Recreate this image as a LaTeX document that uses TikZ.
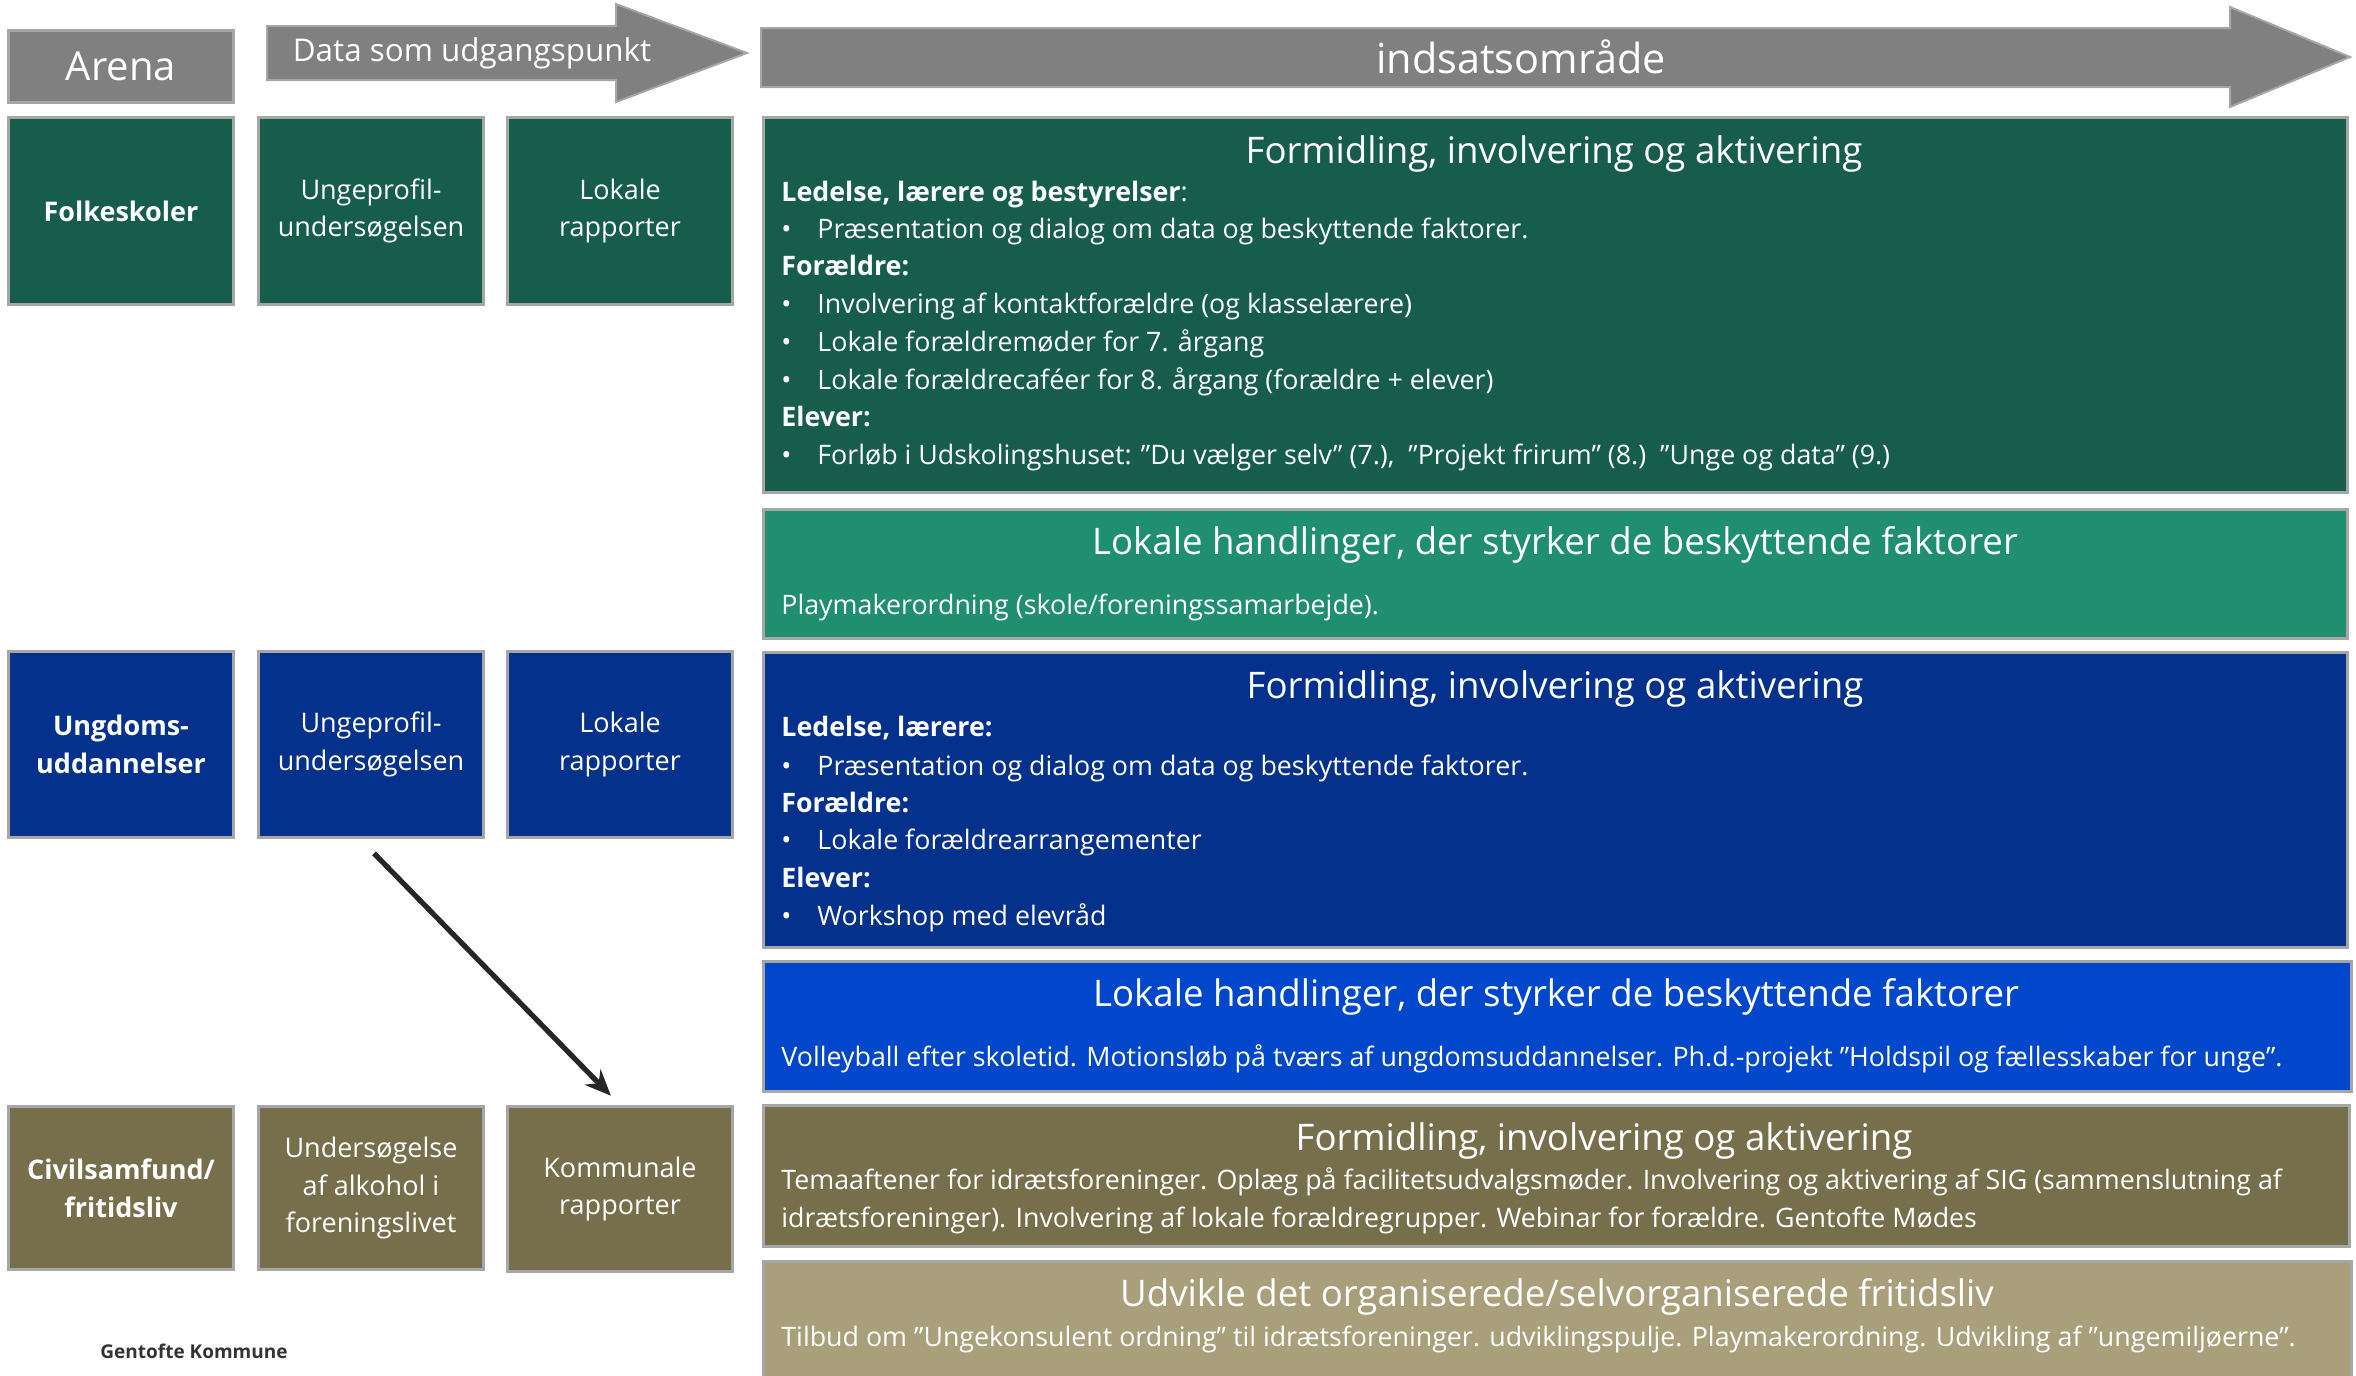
\documentclass[tikz,border=0pt]{standalone}
\usepackage{fontspec}
\setmainfont{Open Sans}
\usetikzlibrary{arrows.meta,calc}
\definecolor{cgreen}{HTML}{165E4B}
\definecolor{cteal}{HTML}{1F8F70}
\definecolor{cblue}{HTML}{03318C}
\definecolor{cbright}{HTML}{0047CC}
\definecolor{colive}{HTML}{776F4C}
\definecolor{ckhaki}{HTML}{A9A07B}
\definecolor{cgray}{HTML}{808080}
\definecolor{cline}{HTML}{A6A6A6}
\definecolor{carrow}{HTML}{262626}
\begin{document}
\begin{tikzpicture}[x=0.5pt,y=-0.5pt,
 lbox/.style={draw=cline,line width=1.5pt,anchor=north west,minimum width=112.5pt,inner sep=0pt,align=center,text=white,font=\fontsize{13.5}{18.8}\selectfont},
 lboxb/.style={lbox,font=\fontsize{13.5}{18.8}\selectfont\bfseries},
 panel/.style={draw=cline,line width=1.5pt,anchor=north west,inner sep=0pt},
 garrow/.style={draw=cline,line width=1pt,fill=cgray},
 ptitle/.style={text=white,inner sep=0pt,text height=13pt,text depth=0pt,font=\fontsize{18.3}{22}\selectfont},
 ptxt/.style={text=white,anchor=west,inner sep=0pt,text height=9.6pt,text depth=0pt,font=\fontsize{13.4}{18.8}\selectfont},
 phead/.style={ptxt,font=\fontsize{13.4}{18.8}\selectfont\bfseries},
 conn/.style={-{Stealth[length=13pt,width=11pt]},line width=2.6pt,draw=carrow},
]
\useasboundingbox (0,0) rectangle (2356,1376);
\clip (0,0) rectangle (2356,1376);

% header arrows
\draw[garrow] (267,26) -- (616,26) -- (616,4) -- (747,53) -- (616,102) -- (616,80) -- (267,80) -- cycle;
\node[text=white,inner sep=0pt,font=\fontsize{15.7}{18}\selectfont] (data) at (472,53) {Data som udgangspunkt};
\draw[garrow] (761,28) -- (2230,28) -- (2230,7) -- (2350,57) -- (2230,107) -- (2230,87) -- (761,87) -- cycle;
\node[text=white,inner sep=0pt,font=\fontsize{20.7}{24}\selectfont] (indsats) at (1521,57) {indsatsområde};
\node[lbox,fill=cgray,minimum height=36pt,font=\fontsize{20}{24}\selectfont] (arena) at (7,29) {Arena};

% left column
\node[lboxb,fill=cgreen,minimum height=93.5pt] (fs) at (7,116) {Folkeskoler};
\node[lbox,fill=cgreen,minimum height=93.5pt] (up1) at (257,116) {Ungeprofil-\\undersøgelsen};
\node[lbox,fill=cgreen,minimum height=93.5pt] (lr1) at (506,116) {Lokale\\rapporter};

\node[lboxb,fill=cblue,minimum height=93pt] (ud) at (7,650) {Ungdoms-\\uddannelser};
\node[lbox,fill=cblue,minimum height=93pt] (up2) at (257,650) {Ungeprofil-\\undersøgelsen};
\node[lbox,fill=cblue,minimum height=93pt] (lr2) at (506,650) {Lokale\\rapporter};

\node[lboxb,fill=colive,minimum height=81.5pt] (cs) at (7,1105) {Civilsamfund/\\fritidsliv};
\node[lbox,fill=colive,minimum height=81.5pt] (ua) at (257,1105) {Undersøgelse\\af alkohol i\\foreningslivet};
\node[lbox,fill=colive,minimum height=82.5pt] (kom) at (506,1105) {Kommunale\\rapporter};

\coordinate (src) at ($(up2.south)+(-11,0)$);
\draw[conn,shorten <=10pt,shorten >=6.5pt] (src) -- (kom.north);

\node[inner sep=0pt,text=black!80,font=\fontsize{9.5}{11}\selectfont\bfseries] (gk) at (194,1351) {Gentofte Kommune};

% panels
\node[panel,fill=cgreen,minimum width=792pt,minimum height=187.5pt] (pg) at (762,116) {};
\node[panel,fill=cteal,minimum width=792pt,minimum height=64.5pt] (pt) at (762,508) {};
\node[panel,fill=cblue,minimum width=792pt,minimum height=147.5pt] (pb) at (762,651) {};
\node[panel,fill=cbright,minimum width=794pt,minimum height=65pt] (pbb) at (762,960) {};
\node[panel,fill=colive,minimum width=793pt,minimum height=70.5pt] (po) at (762,1104) {};
\node[panel,fill=ckhaki,minimum width=794pt,minimum height=150pt] (pk) at (762,1260) {};

% green panel text
\node[ptitle] (g0) at (1554,150) {Formidling, involvering og aktivering};
\node[phead] (g1) at (781,192) {Ledelse, lærere og bestyrelser\mdseries:};
\node[ptxt] (g2b) at (781,229) {•};
\node[ptxt] (g2) at (817,229) {Præsentation og dialog om data og beskyttende faktorer.};
\node[phead] (g3) at (781,266) {Forældre:};
\node[ptxt] (g4b) at (781,304) {•};
\node[ptxt] (g4) at (817,304) {Involvering af kontaktforældre (og klasselærere)};
\node[ptxt] (g5b) at (781,342) {•};
\node[ptxt] (g5) at (817,342) {Lokale forældremøder for 7. årgang};
\node[ptxt] (g6b) at (781,380) {•};
\node[ptxt] (g6) at (817,380) {Lokale forældrecaféer for 8. årgang (forældre + elever)};
\node[phead] (g7) at (781,417) {Elever:};
\node[ptxt] (g8b) at (781,455) {•};
\node[ptxt] (g8) at (817,455) {Forløb i Udskolingshuset: ”Du vælger selv” (7.),\ \ ”Projekt frirum” (8.)\ \ ”Unge og data” (9.)};

% teal panel
\node[ptitle] (t0) at (1555,541) {Lokale handlinger, der styrker de beskyttende faktorer};
\node[ptxt] (t1) at (781,605) {Playmakerordning (skole/foreningssamarbejde).};

% blue panel
\node[ptitle] (b0) at (1555,685) {Formidling, involvering og aktivering};
\node[phead] (b1) at (781,727) {Ledelse, lærere:};
\node[ptxt] (b2b) at (781,766) {•};
\node[ptxt] (b2) at (817,766) {Præsentation og dialog om data og beskyttende faktorer.};
\node[phead] (b3) at (781,803) {Forældre:};
\node[ptxt] (b4b) at (781,840) {•};
\node[ptxt] (b4) at (817,840) {Lokale forældrearrangementer};
\node[phead] (b5) at (781,878) {Elever:};
\node[ptxt] (b6b) at (781,916) {•};
\node[ptxt] (b6) at (817,916) {Workshop med elevråd};

% bright blue panel
\node[ptitle] (bb0) at (1556,993) {Lokale handlinger, der styrker de beskyttende faktorer};
\node[ptxt] (bb1) at (781,1057) {Volleyball efter skoletid. Motionsløb på tværs af ungdomsuddannelser. Ph.d.-projekt ”Holdspil og fællesskaber for unge”.};

% olive panel
\node[ptitle] (o0) at (1604,1137) {Formidling, involvering og aktivering};
\node[ptxt] (o1) at (781,1180) {Temaaftener for idrætsforeninger. Oplæg på facilitetsudvalgsmøder. Involvering og aktivering af SIG (sammenslutning af};
\node[ptxt] (o2) at (781,1218) {idrætsforeninger). Involvering af lokale forældregrupper. Webinar for forældre. Gentofte Mødes};

% khaki panel
\node[ptitle] (k0) at (1557,1293) {Udvikle det organiserede/selvorganiserede fritidsliv};
\node[ptxt] (k1) at (781,1337) {Tilbud om ”Ungekonsulent ordning” til idrætsforeninger. udviklingspulje. Playmakerordning. Udvikling af ”ungemiljøerne”.};
\end{tikzpicture}
\end{document}
